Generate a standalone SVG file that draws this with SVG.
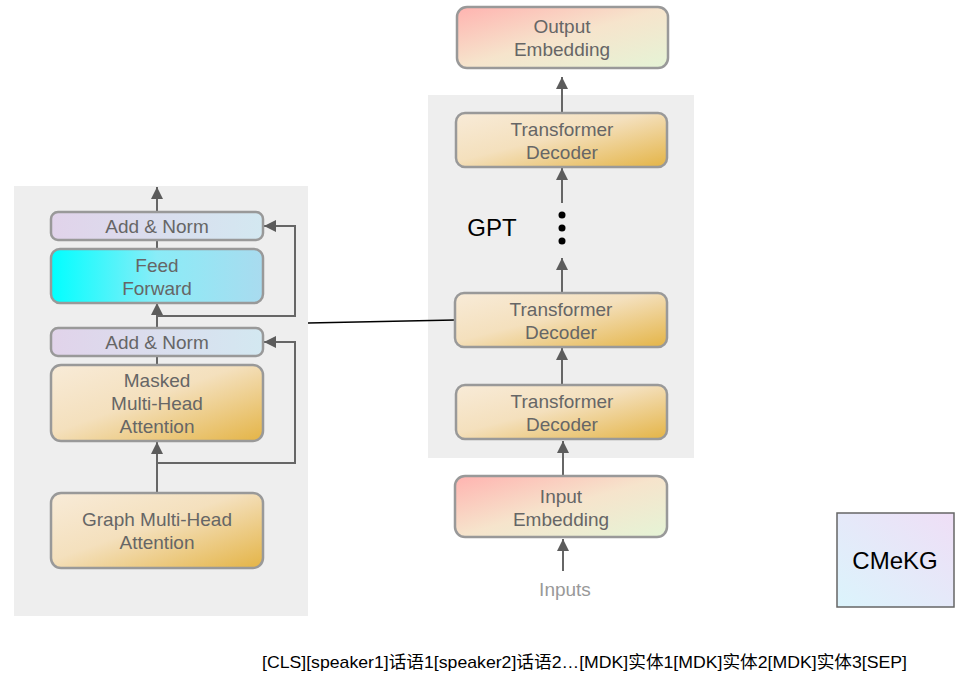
<svg xmlns="http://www.w3.org/2000/svg" width="970" height="688" viewBox="0 0 970 688">
<defs>
<linearGradient id="gOrange" x1="0" y1="0" x2="1" y2="1">
<stop offset="0" stop-color="#f8ebd8"/>
<stop offset="0.45" stop-color="#f4e0bd"/>
<stop offset="1" stop-color="#e4b446"/>
</linearGradient>
<linearGradient id="gEmb" x1="0" y1="0" x2="1" y2="1">
<stop offset="0" stop-color="#ffb3b0"/>
<stop offset="0.5" stop-color="#f6e4cc"/>
<stop offset="1" stop-color="#e5f4d6"/>
</linearGradient>
<linearGradient id="gNorm" x1="0" y1="0" x2="1" y2="0">
<stop offset="0" stop-color="#e1d3ea"/>
<stop offset="1" stop-color="#d3e8f1"/>
</linearGradient>
<linearGradient id="gFF" x1="0" y1="0" x2="1" y2="0">
<stop offset="0" stop-color="#00ffff"/>
<stop offset="0.5" stop-color="#8aecf7"/>
<stop offset="1" stop-color="#a9dbef"/>
</linearGradient>
<linearGradient id="gKG" x1="0" y1="1" x2="1" y2="0">
<stop offset="0" stop-color="#dbf4fc"/>
<stop offset="1" stop-color="#efdef6"/>
</linearGradient>
<marker id="arr" markerUnits="userSpaceOnUse" markerWidth="12" markerHeight="12" viewBox="0 0 10 10" refX="10" refY="5" orient="auto">
<path d="M0,0 L10,5 L0,10 z" fill="#5c5c5c"/>
</marker>
<style>
.panel{fill:#eeeeee;}
.node{stroke:#999999;stroke-width:2.5;}
.t{font-family:"Liberation Sans",Arial,sans-serif;font-size:19px;fill:#666666;text-anchor:middle;}
.ar{stroke:#666666;stroke-width:2;fill:none;marker-end:url(#arr);}
.ln{stroke:#666666;stroke-width:2;fill:none;}
</style>
</defs>
<rect width="970" height="688" fill="#ffffff"/>
<rect class="panel" x="14" y="186" width="294" height="430"/>
<rect class="panel" x="428" y="95" width="266" height="363"/>

<g id="connectors">
<line class="ar" x1="157" y1="212" x2="157" y2="187"/>
<line class="ln" x1="157" y1="240" x2="157" y2="249"/>
<line class="ar" x1="157" y1="328" x2="157" y2="303"/>
<polyline class="ar" points="157,316 295,316 295,226 264,226"/>
<line class="ln" x1="157" y1="356" x2="157" y2="365"/>
<line class="ar" x1="157" y1="492" x2="157" y2="442"/>
<polyline class="ar" points="157,463 295,463 295,342 264,342"/>
<line x1="308" y1="323" x2="455" y2="320" stroke="#000000" stroke-width="1.3"/>
<line class="ar" x1="562" y1="113" x2="562" y2="77"/>
<line class="ar" x1="562" y1="203" x2="562" y2="168"/>
<line class="ar" x1="562" y1="293" x2="562" y2="258"/>
<line class="ar" x1="562" y1="385" x2="562" y2="348"/>
<line class="ar" x1="563" y1="476" x2="563" y2="441"/>
<line class="ar" x1="563" y1="571" x2="563" y2="539"/>
</g>

<g id="addnorm-top">
<rect class="node" x="51" y="212" width="212" height="28" rx="7" fill="url(#gNorm)"/>
<text class="t" x="157" y="233">Add &amp; Norm</text>
</g>
<g id="feed-forward">
<rect class="node" x="51" y="249" width="212" height="54" rx="9" fill="url(#gFF)"/>
<text class="t" x="157" y="272">Feed</text>
<text class="t" x="157" y="295">Forward</text>
</g>
<g id="addnorm-bottom">
<rect class="node" x="51" y="328" width="212" height="28" rx="7" fill="url(#gNorm)"/>
<text class="t" x="157" y="349">Add &amp; Norm</text>
</g>
<g id="masked-mha">
<rect class="node" x="51" y="365" width="212" height="76" rx="10" fill="url(#gOrange)"/>
<text class="t" x="157" y="387">Masked</text>
<text class="t" x="157" y="410">Multi-Head</text>
<text class="t" x="157" y="433">Attention</text>
</g>
<g id="graph-mha">
<rect class="node" x="51" y="493" width="212" height="75" rx="10" fill="url(#gOrange)"/>
<text class="t" x="157" y="526">Graph Multi-Head</text>
<text class="t" x="157" y="549">Attention</text>
</g>

<g id="output-embedding">
<rect class="node" x="457" y="7" width="211" height="61" rx="10" fill="url(#gEmb)"/>
<text class="t" x="562" y="33">Output</text>
<text class="t" x="562" y="56">Embedding</text>
</g>
<g id="decoder-top">
<rect class="node" x="456" y="113" width="211" height="54" rx="9" fill="url(#gOrange)"/>
<text class="t" x="562" y="136">Transformer</text>
<text class="t" x="562" y="159">Decoder</text>
</g>
<g id="gpt-label">
<text x="492" y="236" font-family="'Liberation Sans',Arial,sans-serif" font-size="24" fill="#000000" text-anchor="middle">GPT</text>
</g>
<g id="ellipsis">
<circle cx="562" cy="215" r="3.5" fill="#000000"/>
<circle cx="562" cy="228" r="3.5" fill="#000000"/>
<circle cx="562" cy="241" r="3.5" fill="#000000"/>
</g>
<g id="decoder-mid">
<rect class="node" x="455" y="293" width="212" height="54" rx="9" fill="url(#gOrange)"/>
<text class="t" x="561" y="316">Transformer</text>
<text class="t" x="561" y="339">Decoder</text>
</g>
<g id="decoder-bottom">
<rect class="node" x="456" y="385" width="211" height="54" rx="9" fill="url(#gOrange)"/>
<text class="t" x="562" y="408">Transformer</text>
<text class="t" x="562" y="431">Decoder</text>
</g>
<g id="input-embedding">
<rect class="node" x="455" y="476" width="212" height="61" rx="10" fill="url(#gEmb)"/>
<text class="t" x="561" y="503">Input</text>
<text class="t" x="561" y="526">Embedding</text>
</g>
<g id="inputs-label">
<text class="t" x="565" y="596" style="fill:#999999">Inputs</text>
</g>
<g id="cmekg">
<rect x="837" y="513" width="117" height="94" fill="url(#gKG)" stroke="#666666" stroke-width="1.5"/>
<text x="895" y="569" font-family="'Liberation Sans',Arial,sans-serif" font-size="24" fill="#000000" text-anchor="middle">CMeKG</text>
</g>
<g id="sequence">
<text x="262" y="668" font-family="'Liberation Sans','Noto Sans CJK SC',sans-serif" font-size="17" fill="#000000" textLength="645" lengthAdjust="spacingAndGlyphs">[CLS][speaker1]话语1[speaker2]话语2…[MDK]实体1[MDK]实体2[MDK]实体3[SEP]</text>
</g>
</svg>
